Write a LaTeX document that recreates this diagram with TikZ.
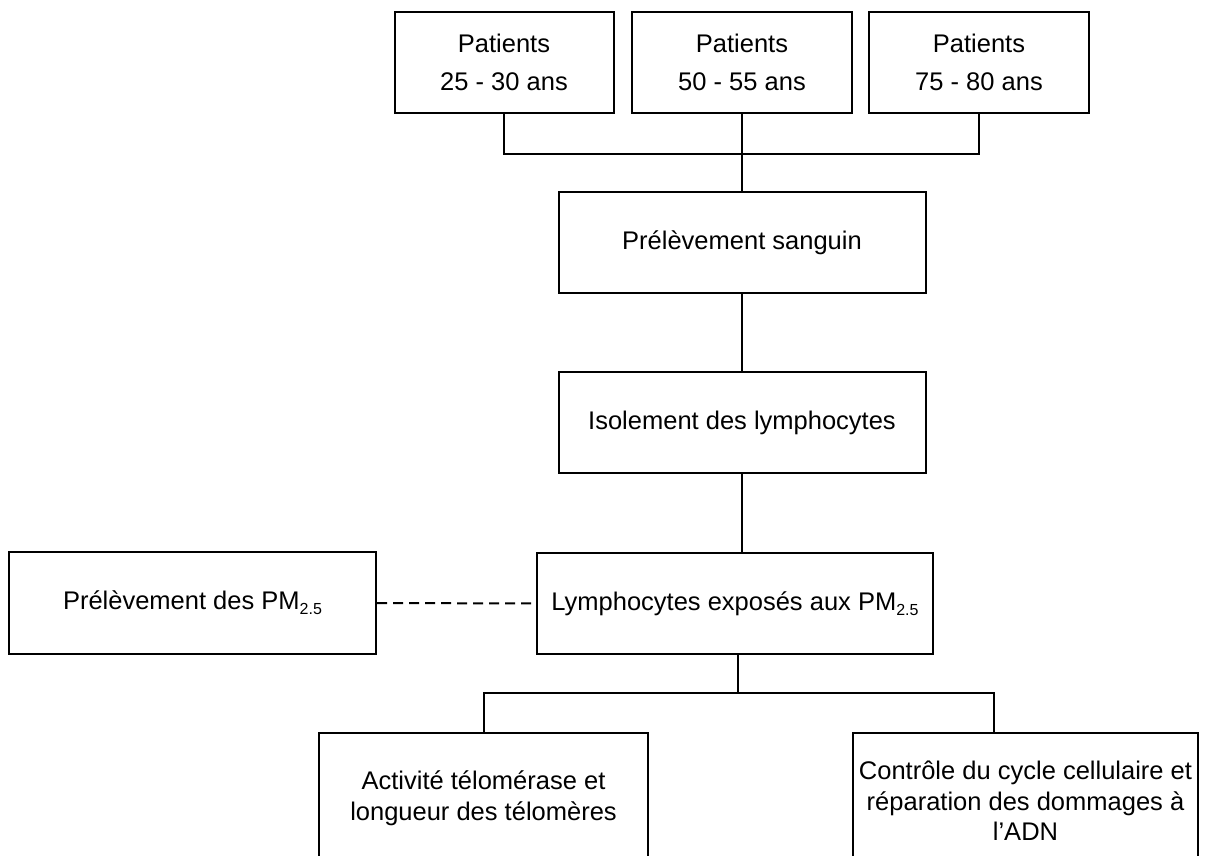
\documentclass[tikz,border=0pt]{standalone}
\usepackage{fontspec}
\setmainfont{Liberation Sans}
\newcommand\pmsub[1]{\raisebox{-5pt}{\fontsize{16}{16}\selectfont #1}}
\begin{document}
\begin{tikzpicture}[x=1pt,y=-1pt,
  box/.style={draw=black, line width=2pt, rectangle, inner sep=0pt, align=center},
  toptxt/.style={font=\fontsize{25.5}{38}\selectfont},
  midtxt/.style={font=\fontsize{25.5}{30.5}\selectfont},
  link/.style={draw=black, line width=2pt},
  dlink/.style={draw=black, line width=2pt, dash pattern=on 10pt off 6pt}]
\useasboundingbox (0,0) rectangle (1211,855);
\clip (0,0) rectangle (1211,855);
\fill[white] (0,0) rectangle (1211,855);
% top row
\node[box, toptxt, minimum width=219pt, minimum height=101pt] (p1) at (504,62.5) {Patients\\25 - 30 ans};
\node[box, toptxt, minimum width=220pt, minimum height=101pt] (p2) at (742,62.5) {Patients\\50 - 55 ans};
\node[box, toptxt, minimum width=220pt, minimum height=101pt] (p3) at (979,62.5) {Patients\\75 - 80 ans};
% chain
\node[box, midtxt, minimum width=367pt, minimum height=101pt] (sang) at (742,242.5) {Prélèvement sanguin};
\node[box, midtxt, minimum width=367pt, minimum height=101pt] (iso) at (742,422.5) {Isolement des lymphocytes};
\node[box, midtxt, minimum width=396pt, minimum height=101pt] (lymph) at (735,603.5) {Lymphocytes exposés aux PM\pmsub{2.5}};
\node[box, midtxt, minimum width=367pt, minimum height=102pt] (pm) at (192.5,603) {Prélèvement des PM\pmsub{2.5}};
% bottom row
\node[box, midtxt, minimum width=329pt, minimum height=130pt] (act) at (483.5,798) {Activité télomérase et\\longueur des télomères};
\node[box, midtxt, minimum width=345pt, minimum height=136pt] (ctrl) at (1025.5,801) {Contrôle du cycle cellulaire et\\réparation des dommages à\\l’ADN};
% junction coordinates
\coordinate (jtop) at (742,154);
\coordinate (jbot) at (738,693);
% connectors
\draw[link] (p1.south) |- (jtop) -| (p3.south);
\draw[link] (p2.south) -- (sang.north);
\draw[link] (sang.south) -- (iso.north);
\draw[link] (iso.south) -- (iso.south |- lymph.north);
\draw[link] (lymph.south -| jbot) -- (jbot);
\draw[link] (jbot) -| (act.north);
\draw[link] (jbot) -| (994,733) coordinate (cr);
\draw[dlink] (pm.east) -- (lymph.west);
\end{tikzpicture}
\end{document}
